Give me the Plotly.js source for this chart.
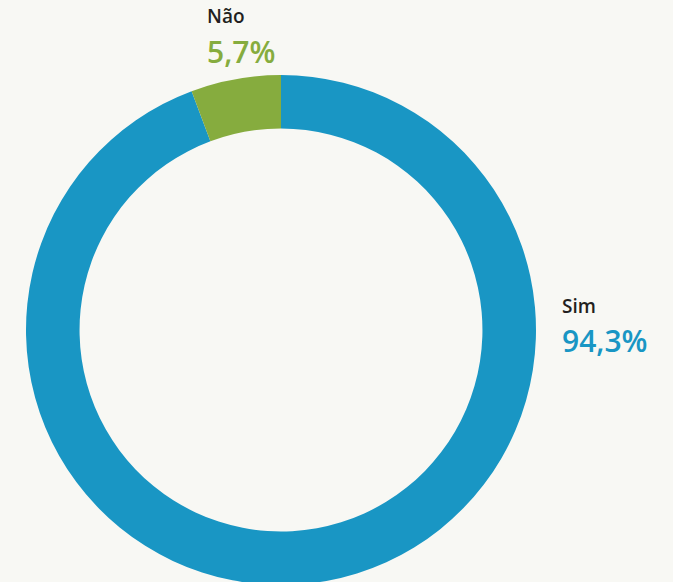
<!DOCTYPE html>
<html><head><meta charset="utf-8">
<script src="https://cdn.plot.ly/plotly-3.0.1.min.js"></script>
<style>html,body{margin:0;padding:0;overflow:hidden;background:#f8f8f4;width:673px;height:582px}</style>
</head><body><div id="chart"></div>
<script>
const categories = ["Sim", "Não"];
const values = [94.3, 5.7];
const valueLabels = ["94,3%", "5,7%"];
const colors = ["#1996c4", "#86ac3e"];

const W = 673, H = 660;
const cx = 281, cy = 330, r = 255;

const data = [{
  type: "pie",
  labels: categories,
  values: values,
  sort: false,
  direction: "clockwise",
  rotation: 0,
  hole: 0.79,
  textinfo: "none",
  hoverinfo: "label+percent",
  marker: {colors: colors, line: {width: 0}},
  showlegend: false,
  domain: {x: [(cx - r) / W, (cx + r) / W], y: [(H - cy - r) / H, (H - cy + r) / H]}
}];

const labelPos = [
  {x: 560, yName: 306, yVal: 340},
  {x: 205, yName: 16, yVal: 52}
];
const annotations = [];
categories.forEach((c, i) => {
  annotations.push({text: c, xref: "paper", yref: "paper", x: labelPos[i].x / W, y: 1 - labelPos[i].yName / H,
    xanchor: "left", yanchor: "middle", showarrow: false,
    font: {family: "Open Sans", size: 19, weight: 600, color: "#231f20"}});
  annotations.push({text: valueLabels[i], xref: "paper", yref: "paper", x: labelPos[i].x / W, y: 1 - labelPos[i].yVal / H,
    xanchor: "left", yanchor: "middle", showarrow: false,
    font: {family: "Open Sans", size: 30, weight: 600, color: colors[i]}});
});

Plotly.newPlot("chart", data, {
  width: W, height: H,
  margin: {l: 0, r: 0, t: 0, b: 0, pad: 0},
  paper_bgcolor: "#f8f8f4",
  plot_bgcolor: "#f8f8f4",
  annotations: annotations
}, {displayModeBar: false, staticPlot: true});
</script></body></html>
